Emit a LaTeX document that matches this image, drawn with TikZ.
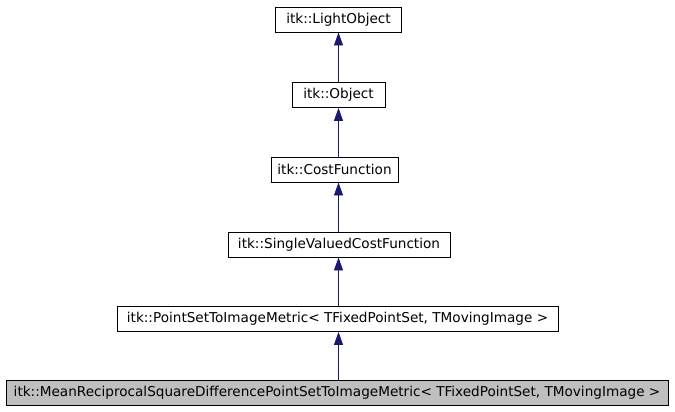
\documentclass[tikz,border=0pt]{standalone}
\usepackage{fontspec}
\setmainfont{DejaVu Sans}
\usetikzlibrary{arrows.meta}
\definecolor{edgeblue}{HTML}{191970}
\definecolor{boxgray}{HTML}{BFBFBF}
\tikzset{
  cls/.style={draw=black, line width=0.9bp, fill=white, inner sep=0pt, minimum height=25bp, font=\fontsize{13.6bp}{15bp}\selectfont},
  inh/.style={draw=edgeblue, line width=0.9bp, -{Triangle[length=13bp,width=9bp,fill=edgeblue]}}
}
\begin{document}
\begin{tikzpicture}[x=1bp,y=-1bp]
\useasboundingbox (0,0) rectangle (675,411);
\node[cls, minimum width=126bp] (lo) at (338.5,19.5) {itk::LightObject};
\node[cls, minimum width=93bp] (ob) at (338.5,95) {itk::Object};
\node[cls, minimum width=127bp] (cf) at (334.5,169.5) {itk::CostFunction};
\node[cls, minimum width=222bp] (sv) at (339,244.5) {itk::SingleValuedCostFunction};
\node[cls, minimum width=441bp] (ps) at (337.5,319) {itk::PointSetToImageMetric< TFixedPointSet, TMovingImage >};
\node[cls, fill=boxgray, minimum width=662bp] (mr) at (337,392.5) {itk::MeanReciprocalSquareDifferencePointSetToImageMetric< TFixedPointSet, TMovingImage >};
\draw[inh] (ob.north -| lo.south) -- (lo.south);
\draw[inh] (cf.north -| lo.south) -- (ob.south -| lo.south);
\draw[inh] (sv.north -| lo.south) -- (cf.south -| lo.south);
\draw[inh] (ps.north -| lo.south) -- (sv.south -| lo.south);
\draw[inh] (mr.north -| lo.south) -- (ps.south -| lo.south);
\end{tikzpicture}
\end{document}
